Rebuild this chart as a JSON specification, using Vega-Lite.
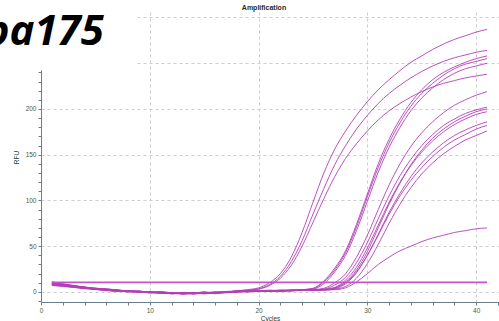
{
  "$schema": "https://vega.github.io/schema/vega-lite/v6.json",
  "width": 458,
  "height": 290,
  "autosize": {"type": "none"},
  "padding": {"left": 41, "top": 12, "right": 0, "bottom": 19},
  "background": "white",
  "title": {"text": "Amplification", "frame": "group", "font": "Liberation Sans", "fontSize": 7, "fontWeight": "bold", "color": "#1f2d1f", "offset": 0, "dy": 10.5, "dx": -6},
  "config": {
    "view": {"stroke": null},
    "axis": {
      "domainColor": "#6a7f8c",
      "tickColor": "#6a7f8c",
      "tickSize": 3,
      "labelFont": "Liberation Sans",
      "labelFontSize": 6.5,
      "labelColor": "#4f5a3c",
      "labelOverlap": false,
      "format": "d",
      "titleFont": "Liberation Sans",
      "titleFontSize": 6.5,
      "titleFontWeight": "normal",
      "titleColor": "#2f3a2a",
      "gridColor": "#cdcdcd",
      "gridDash": [3, 3],
      "gridWidth": 1
    }
  },
  "datasets": {
    "wells": [
      {"well":"A","cycle":1,"rfu":10},{"well":"A","cycle":2,"rfu":8},{"well":"A","cycle":3,"rfu":6.5},{"well":"A","cycle":4,"rfu":5},{"well":"A","cycle":5,"rfu":3},{"well":"A","cycle":6,"rfu":2.5},{"well":"A","cycle":7,"rfu":2},{"well":"A","cycle":8,"rfu":0.5},{"well":"A","cycle":9,"rfu":1},{"well":"A","cycle":10,"rfu":-0.5},{"well":"A","cycle":11,"rfu":0},{"well":"A","cycle":12,"rfu":-1.5},{"well":"A","cycle":13,"rfu":-1},{"well":"A","cycle":14,"rfu":-2},{"well":"A","cycle":15,"rfu":0},{"well":"A","cycle":16,"rfu":-1.5},{"well":"A","cycle":17,"rfu":0.5},{"well":"A","cycle":18,"rfu":1},{"well":"A","cycle":19,"rfu":2.5},{"well":"A","cycle":20,"rfu":4.5},{"well":"A","cycle":21,"rfu":10},{"well":"A","cycle":22,"rfu":20},{"well":"A","cycle":23,"rfu":38},{"well":"A","cycle":24,"rfu":65},{"well":"A","cycle":25,"rfu":98},{"well":"A","cycle":26,"rfu":130},{"well":"A","cycle":27,"rfu":156},{"well":"A","cycle":28,"rfu":176},{"well":"A","cycle":29,"rfu":193},{"well":"A","cycle":30,"rfu":208},{"well":"A","cycle":31,"rfu":221},{"well":"A","cycle":32,"rfu":232},{"well":"A","cycle":33,"rfu":242},{"well":"A","cycle":34,"rfu":251},{"well":"A","cycle":35,"rfu":258},{"well":"A","cycle":36,"rfu":265},{"well":"A","cycle":37,"rfu":271},{"well":"A","cycle":38,"rfu":276},{"well":"A","cycle":39,"rfu":280},{"well":"A","cycle":40,"rfu":284},{"well":"A","cycle":41,"rfu":287},
      {"well":"B","cycle":1,"rfu":8},{"well":"B","cycle":2,"rfu":7},{"well":"B","cycle":3,"rfu":5.5},{"well":"B","cycle":4,"rfu":4.5},{"well":"B","cycle":5,"rfu":4},{"well":"B","cycle":6,"rfu":2},{"well":"B","cycle":7,"rfu":1},{"well":"B","cycle":8,"rfu":1.5},{"well":"B","cycle":9,"rfu":0},{"well":"B","cycle":10,"rfu":0.5},{"well":"B","cycle":11,"rfu":-1},{"well":"B","cycle":12,"rfu":-0.5},{"well":"B","cycle":13,"rfu":-2},{"well":"B","cycle":14,"rfu":-1},{"well":"B","cycle":15,"rfu":-1.5},{"well":"B","cycle":16,"rfu":0},{"well":"B","cycle":17,"rfu":-0.5},{"well":"B","cycle":18,"rfu":1.5},{"well":"B","cycle":19,"rfu":2},{"well":"B","cycle":20,"rfu":3.5},{"well":"B","cycle":21,"rfu":8},{"well":"B","cycle":22,"rfu":17},{"well":"B","cycle":23,"rfu":33},{"well":"B","cycle":24,"rfu":56},{"well":"B","cycle":25,"rfu":85},{"well":"B","cycle":26,"rfu":113},{"well":"B","cycle":27,"rfu":139},{"well":"B","cycle":28,"rfu":160},{"well":"B","cycle":29,"rfu":178},{"well":"B","cycle":30,"rfu":193},{"well":"B","cycle":31,"rfu":206},{"well":"B","cycle":32,"rfu":217},{"well":"B","cycle":33,"rfu":226},{"well":"B","cycle":34,"rfu":234},{"well":"B","cycle":35,"rfu":241},{"well":"B","cycle":36,"rfu":247},{"well":"B","cycle":37,"rfu":252},{"well":"B","cycle":38,"rfu":256},{"well":"B","cycle":39,"rfu":259},{"well":"B","cycle":40,"rfu":262},{"well":"B","cycle":41,"rfu":264},
      {"well":"C","cycle":1,"rfu":11},{"well":"C","cycle":2,"rfu":9},{"well":"C","cycle":3,"rfu":7},{"well":"C","cycle":4,"rfu":5.5},{"well":"C","cycle":5,"rfu":4},{"well":"C","cycle":6,"rfu":3.5},{"well":"C","cycle":7,"rfu":2},{"well":"C","cycle":8,"rfu":1},{"well":"C","cycle":9,"rfu":0.5},{"well":"C","cycle":10,"rfu":0},{"well":"C","cycle":11,"rfu":-1},{"well":"C","cycle":12,"rfu":-1.5},{"well":"C","cycle":13,"rfu":-0.5},{"well":"C","cycle":14,"rfu":-1},{"well":"C","cycle":15,"rfu":-2},{"well":"C","cycle":16,"rfu":-0.5},{"well":"C","cycle":17,"rfu":0},{"well":"C","cycle":18,"rfu":1},{"well":"C","cycle":19,"rfu":1.5},{"well":"C","cycle":20,"rfu":3},{"well":"C","cycle":21,"rfu":7},{"well":"C","cycle":22,"rfu":15},{"well":"C","cycle":23,"rfu":29},{"well":"C","cycle":24,"rfu":50},{"well":"C","cycle":25,"rfu":76},{"well":"C","cycle":26,"rfu":102},{"well":"C","cycle":27,"rfu":126},{"well":"C","cycle":28,"rfu":146},{"well":"C","cycle":29,"rfu":162},{"well":"C","cycle":30,"rfu":176},{"well":"C","cycle":31,"rfu":188},{"well":"C","cycle":32,"rfu":198},{"well":"C","cycle":33,"rfu":206},{"well":"C","cycle":34,"rfu":213},{"well":"C","cycle":35,"rfu":219},{"well":"C","cycle":36,"rfu":224},{"well":"C","cycle":37,"rfu":228},{"well":"C","cycle":38,"rfu":231},{"well":"C","cycle":39,"rfu":234},{"well":"C","cycle":40,"rfu":236},{"well":"C","cycle":41,"rfu":238},
      {"well":"D","cycle":1,"rfu":9},{"well":"D","cycle":2,"rfu":7},{"well":"D","cycle":3,"rfu":6},{"well":"D","cycle":4,"rfu":4},{"well":"D","cycle":5,"rfu":3.5},{"well":"D","cycle":6,"rfu":2},{"well":"D","cycle":7,"rfu":1.5},{"well":"D","cycle":8,"rfu":0},{"well":"D","cycle":9,"rfu":0.5},{"well":"D","cycle":10,"rfu":-1},{"well":"D","cycle":11,"rfu":-0.5},{"well":"D","cycle":12,"rfu":-2},{"well":"D","cycle":13,"rfu":-1.5},{"well":"D","cycle":14,"rfu":-0.5},{"well":"D","cycle":15,"rfu":-1},{"well":"D","cycle":16,"rfu":-1.5},{"well":"D","cycle":17,"rfu":0},{"well":"D","cycle":18,"rfu":0},{"well":"D","cycle":19,"rfu":1},{"well":"D","cycle":20,"rfu":0.5},{"well":"D","cycle":21,"rfu":1.5},{"well":"D","cycle":22,"rfu":1},{"well":"D","cycle":23,"rfu":2},{"well":"D","cycle":24,"rfu":2.5},{"well":"D","cycle":25,"rfu":4},{"well":"D","cycle":26,"rfu":12},{"well":"D","cycle":27,"rfu":26},{"well":"D","cycle":28,"rfu":45},{"well":"D","cycle":29,"rfu":74},{"well":"D","cycle":30,"rfu":107},{"well":"D","cycle":31,"rfu":140},{"well":"D","cycle":32,"rfu":167},{"well":"D","cycle":33,"rfu":189},{"well":"D","cycle":34,"rfu":207},{"well":"D","cycle":35,"rfu":221},{"well":"D","cycle":36,"rfu":232},{"well":"D","cycle":37,"rfu":240},{"well":"D","cycle":38,"rfu":246},{"well":"D","cycle":39,"rfu":251},{"well":"D","cycle":40,"rfu":255},{"well":"D","cycle":41,"rfu":258},
      {"well":"E","cycle":1,"rfu":7.5},{"well":"E","cycle":2,"rfu":6.5},{"well":"E","cycle":3,"rfu":5},{"well":"E","cycle":4,"rfu":4},{"well":"E","cycle":5,"rfu":2.5},{"well":"E","cycle":6,"rfu":2},{"well":"E","cycle":7,"rfu":0.5},{"well":"E","cycle":8,"rfu":1},{"well":"E","cycle":9,"rfu":-0.5},{"well":"E","cycle":10,"rfu":0},{"well":"E","cycle":11,"rfu":-1.5},{"well":"E","cycle":12,"rfu":-1},{"well":"E","cycle":13,"rfu":-2.5},{"well":"E","cycle":14,"rfu":-1.5},{"well":"E","cycle":15,"rfu":0},{"well":"E","cycle":16,"rfu":-1},{"well":"E","cycle":17,"rfu":-0.5},{"well":"E","cycle":18,"rfu":0.5},{"well":"E","cycle":19,"rfu":0},{"well":"E","cycle":20,"rfu":1},{"well":"E","cycle":21,"rfu":0.5},{"well":"E","cycle":22,"rfu":1.5},{"well":"E","cycle":23,"rfu":1},{"well":"E","cycle":24,"rfu":2},{"well":"E","cycle":25,"rfu":3},{"well":"E","cycle":26,"rfu":9},{"well":"E","cycle":27,"rfu":22},{"well":"E","cycle":28,"rfu":40},{"well":"E","cycle":29,"rfu":67},{"well":"E","cycle":30,"rfu":99},{"well":"E","cycle":31,"rfu":131},{"well":"E","cycle":32,"rfu":158},{"well":"E","cycle":33,"rfu":180},{"well":"E","cycle":34,"rfu":198},{"well":"E","cycle":35,"rfu":212},{"well":"E","cycle":36,"rfu":223},{"well":"E","cycle":37,"rfu":232},{"well":"E","cycle":38,"rfu":239},{"well":"E","cycle":39,"rfu":244},{"well":"E","cycle":40,"rfu":247},{"well":"E","cycle":41,"rfu":250},
      {"well":"F","cycle":1,"rfu":10.5},{"well":"F","cycle":2,"rfu":8.5},{"well":"F","cycle":3,"rfu":7},{"well":"F","cycle":4,"rfu":5},{"well":"F","cycle":5,"rfu":4},{"well":"F","cycle":6,"rfu":3},{"well":"F","cycle":7,"rfu":2.5},{"well":"F","cycle":8,"rfu":1},{"well":"F","cycle":9,"rfu":1},{"well":"F","cycle":10,"rfu":-0.5},{"well":"F","cycle":11,"rfu":0.5},{"well":"F","cycle":12,"rfu":-1},{"well":"F","cycle":13,"rfu":-1},{"well":"F","cycle":14,"rfu":-2.5},{"well":"F","cycle":15,"rfu":-1},{"well":"F","cycle":16,"rfu":-0.5},{"well":"F","cycle":17,"rfu":-1},{"well":"F","cycle":18,"rfu":0},{"well":"F","cycle":19,"rfu":1},{"well":"F","cycle":20,"rfu":1.5},{"well":"F","cycle":21,"rfu":1},{"well":"F","cycle":22,"rfu":2},{"well":"F","cycle":23,"rfu":2},{"well":"F","cycle":24,"rfu":2.5},{"well":"F","cycle":25,"rfu":3.5},{"well":"F","cycle":26,"rfu":11},{"well":"F","cycle":27,"rfu":24},{"well":"F","cycle":28,"rfu":43},{"well":"F","cycle":29,"rfu":71},{"well":"F","cycle":30,"rfu":104},{"well":"F","cycle":31,"rfu":136},{"well":"F","cycle":32,"rfu":163},{"well":"F","cycle":33,"rfu":185},{"well":"F","cycle":34,"rfu":203},{"well":"F","cycle":35,"rfu":217},{"well":"F","cycle":36,"rfu":228},{"well":"F","cycle":37,"rfu":237},{"well":"F","cycle":38,"rfu":244},{"well":"F","cycle":39,"rfu":249},{"well":"F","cycle":40,"rfu":252},{"well":"F","cycle":41,"rfu":255},
      {"well":"G","cycle":1,"rfu":8.5},{"well":"G","cycle":2,"rfu":7.5},{"well":"G","cycle":3,"rfu":6},{"well":"G","cycle":4,"rfu":5},{"well":"G","cycle":5,"rfu":3},{"well":"G","cycle":6,"rfu":2.5},{"well":"G","cycle":7,"rfu":1.5},{"well":"G","cycle":8,"rfu":1.5},{"well":"G","cycle":9,"rfu":0},{"well":"G","cycle":10,"rfu":-0.5},{"well":"G","cycle":11,"rfu":-1},{"well":"G","cycle":12,"rfu":-1.5},{"well":"G","cycle":13,"rfu":-1},{"well":"G","cycle":14,"rfu":-0.5},{"well":"G","cycle":15,"rfu":-1.5},{"well":"G","cycle":16,"rfu":-1},{"well":"G","cycle":17,"rfu":0.5},{"well":"G","cycle":18,"rfu":0},{"well":"G","cycle":19,"rfu":0.5},{"well":"G","cycle":20,"rfu":1},{"well":"G","cycle":21,"rfu":1.5},{"well":"G","cycle":22,"rfu":1},{"well":"G","cycle":23,"rfu":1.5},{"well":"G","cycle":24,"rfu":2},{"well":"G","cycle":25,"rfu":2.5},{"well":"G","cycle":26,"rfu":4},{"well":"G","cycle":27,"rfu":10},{"well":"G","cycle":28,"rfu":20},{"well":"G","cycle":29,"rfu":38},{"well":"G","cycle":30,"rfu":62},{"well":"G","cycle":31,"rfu":90},{"well":"G","cycle":32,"rfu":117},{"well":"G","cycle":33,"rfu":140},{"well":"G","cycle":34,"rfu":159},{"well":"G","cycle":35,"rfu":174},{"well":"G","cycle":36,"rfu":186},{"well":"G","cycle":37,"rfu":196},{"well":"G","cycle":38,"rfu":204},{"well":"G","cycle":39,"rfu":210},{"well":"G","cycle":40,"rfu":215},{"well":"G","cycle":41,"rfu":219},
      {"well":"H","cycle":1,"rfu":9.5},{"well":"H","cycle":2,"rfu":8},{"well":"H","cycle":3,"rfu":6.5},{"well":"H","cycle":4,"rfu":4.5},{"well":"H","cycle":5,"rfu":4},{"well":"H","cycle":6,"rfu":2.5},{"well":"H","cycle":7,"rfu":1},{"well":"H","cycle":8,"rfu":0.5},{"well":"H","cycle":9,"rfu":1},{"well":"H","cycle":10,"rfu":-1},{"well":"H","cycle":11,"rfu":0},{"well":"H","cycle":12,"rfu":-1},{"well":"H","cycle":13,"rfu":-2},{"well":"H","cycle":14,"rfu":-1.5},{"well":"H","cycle":15,"rfu":-0.5},{"well":"H","cycle":16,"rfu":-1.5},{"well":"H","cycle":17,"rfu":-0.5},{"well":"H","cycle":18,"rfu":1},{"well":"H","cycle":19,"rfu":0.5},{"well":"H","cycle":20,"rfu":1.5},{"well":"H","cycle":21,"rfu":1},{"well":"H","cycle":22,"rfu":2},{"well":"H","cycle":23,"rfu":1.5},{"well":"H","cycle":24,"rfu":2.5},{"well":"H","cycle":25,"rfu":2},{"well":"H","cycle":26,"rfu":3},{"well":"H","cycle":27,"rfu":7.5},{"well":"H","cycle":28,"rfu":16},{"well":"H","cycle":29,"rfu":32},{"well":"H","cycle":30,"rfu":54},{"well":"H","cycle":31,"rfu":80},{"well":"H","cycle":32,"rfu":105},{"well":"H","cycle":33,"rfu":127},{"well":"H","cycle":34,"rfu":145},{"well":"H","cycle":35,"rfu":160},{"well":"H","cycle":36,"rfu":172},{"well":"H","cycle":37,"rfu":182},{"well":"H","cycle":38,"rfu":189},{"well":"H","cycle":39,"rfu":195},{"well":"H","cycle":40,"rfu":199},{"well":"H","cycle":41,"rfu":202},
      {"well":"I","cycle":1,"rfu":8},{"well":"I","cycle":2,"rfu":6.5},{"well":"I","cycle":3,"rfu":5.5},{"well":"I","cycle":4,"rfu":4},{"well":"I","cycle":5,"rfu":3},{"well":"I","cycle":6,"rfu":1.5},{"well":"I","cycle":7,"rfu":1.5},{"well":"I","cycle":8,"rfu":0.5},{"well":"I","cycle":9,"rfu":-0.5},{"well":"I","cycle":10,"rfu":0},{"well":"I","cycle":11,"rfu":-1},{"well":"I","cycle":12,"rfu":-2},{"well":"I","cycle":13,"rfu":-1.5},{"well":"I","cycle":14,"rfu":-1},{"well":"I","cycle":15,"rfu":-0.5},{"well":"I","cycle":16,"rfu":-2},{"well":"I","cycle":17,"rfu":-0.5},{"well":"I","cycle":18,"rfu":0},{"well":"I","cycle":19,"rfu":1},{"well":"I","cycle":20,"rfu":0.5},{"well":"I","cycle":21,"rfu":1},{"well":"I","cycle":22,"rfu":1},{"well":"I","cycle":23,"rfu":2},{"well":"I","cycle":24,"rfu":1.5},{"well":"I","cycle":25,"rfu":2.5},{"well":"I","cycle":26,"rfu":2.5},{"well":"I","cycle":27,"rfu":4.5},{"well":"I","cycle":28,"rfu":11},{"well":"I","cycle":29,"rfu":24},{"well":"I","cycle":30,"rfu":44},{"well":"I","cycle":31,"rfu":70},{"well":"I","cycle":32,"rfu":96},{"well":"I","cycle":33,"rfu":119},{"well":"I","cycle":34,"rfu":139},{"well":"I","cycle":35,"rfu":155},{"well":"I","cycle":36,"rfu":168},{"well":"I","cycle":37,"rfu":178},{"well":"I","cycle":38,"rfu":186},{"well":"I","cycle":39,"rfu":192},{"well":"I","cycle":40,"rfu":197},{"well":"I","cycle":41,"rfu":200},
      {"well":"J","cycle":1,"rfu":10},{"well":"J","cycle":2,"rfu":8.5},{"well":"J","cycle":3,"rfu":6.5},{"well":"J","cycle":4,"rfu":5.5},{"well":"J","cycle":5,"rfu":3.5},{"well":"J","cycle":6,"rfu":3},{"well":"J","cycle":7,"rfu":2},{"well":"J","cycle":8,"rfu":1},{"well":"J","cycle":9,"rfu":0},{"well":"J","cycle":10,"rfu":0.5},{"well":"J","cycle":11,"rfu":-0.5},{"well":"J","cycle":12,"rfu":-1},{"well":"J","cycle":13,"rfu":-1},{"well":"J","cycle":14,"rfu":-2},{"well":"J","cycle":15,"rfu":-1},{"well":"J","cycle":16,"rfu":-1},{"well":"J","cycle":17,"rfu":0},{"well":"J","cycle":18,"rfu":0.5},{"well":"J","cycle":19,"rfu":0},{"well":"J","cycle":20,"rfu":1},{"well":"J","cycle":21,"rfu":2},{"well":"J","cycle":22,"rfu":1.5},{"well":"J","cycle":23,"rfu":1.5},{"well":"J","cycle":24,"rfu":2},{"well":"J","cycle":25,"rfu":2},{"well":"J","cycle":26,"rfu":3},{"well":"J","cycle":27,"rfu":5},{"well":"J","cycle":28,"rfu":13},{"well":"J","cycle":29,"rfu":27},{"well":"J","cycle":30,"rfu":48},{"well":"J","cycle":31,"rfu":73},{"well":"J","cycle":32,"rfu":98},{"well":"J","cycle":33,"rfu":120},{"well":"J","cycle":34,"rfu":138},{"well":"J","cycle":35,"rfu":153},{"well":"J","cycle":36,"rfu":165},{"well":"J","cycle":37,"rfu":175},{"well":"J","cycle":38,"rfu":183},{"well":"J","cycle":39,"rfu":189},{"well":"J","cycle":40,"rfu":194},{"well":"J","cycle":41,"rfu":197},
      {"well":"K","cycle":1,"rfu":9},{"well":"K","cycle":2,"rfu":7},{"well":"K","cycle":3,"rfu":6},{"well":"K","cycle":4,"rfu":4.5},{"well":"K","cycle":5,"rfu":3},{"well":"K","cycle":6,"rfu":2},{"well":"K","cycle":7,"rfu":1},{"well":"K","cycle":8,"rfu":1},{"well":"K","cycle":9,"rfu":0.5},{"well":"K","cycle":10,"rfu":-1},{"well":"K","cycle":11,"rfu":-0.5},{"well":"K","cycle":12,"rfu":-2},{"well":"K","cycle":13,"rfu":-1},{"well":"K","cycle":14,"rfu":-1.5},{"well":"K","cycle":15,"rfu":-1},{"well":"K","cycle":16,"rfu":0},{"well":"K","cycle":17,"rfu":-0.5},{"well":"K","cycle":18,"rfu":0.5},{"well":"K","cycle":19,"rfu":1},{"well":"K","cycle":20,"rfu":1},{"well":"K","cycle":21,"rfu":1.5},{"well":"K","cycle":22,"rfu":0.5},{"well":"K","cycle":23,"rfu":2},{"well":"K","cycle":24,"rfu":2},{"well":"K","cycle":25,"rfu":1.5},{"well":"K","cycle":26,"rfu":2.5},{"well":"K","cycle":27,"rfu":3.5},{"well":"K","cycle":28,"rfu":9},{"well":"K","cycle":29,"rfu":21},{"well":"K","cycle":30,"rfu":40},{"well":"K","cycle":31,"rfu":63},{"well":"K","cycle":32,"rfu":87},{"well":"K","cycle":33,"rfu":108},{"well":"K","cycle":34,"rfu":126},{"well":"K","cycle":35,"rfu":141},{"well":"K","cycle":36,"rfu":153},{"well":"K","cycle":37,"rfu":163},{"well":"K","cycle":38,"rfu":171},{"well":"K","cycle":39,"rfu":177},{"well":"K","cycle":40,"rfu":182},{"well":"K","cycle":41,"rfu":186},
      {"well":"L","cycle":1,"rfu":7},{"well":"L","cycle":2,"rfu":6},{"well":"L","cycle":3,"rfu":5},{"well":"L","cycle":4,"rfu":3.5},{"well":"L","cycle":5,"rfu":3},{"well":"L","cycle":6,"rfu":1.5},{"well":"L","cycle":7,"rfu":1},{"well":"L","cycle":8,"rfu":0},{"well":"L","cycle":9,"rfu":0.5},{"well":"L","cycle":10,"rfu":-0.5},{"well":"L","cycle":11,"rfu":-1.5},{"well":"L","cycle":12,"rfu":-1},{"well":"L","cycle":13,"rfu":-2},{"well":"L","cycle":14,"rfu":-1},{"well":"L","cycle":15,"rfu":-1.5},{"well":"L","cycle":16,"rfu":-1},{"well":"L","cycle":17,"rfu":0},{"well":"L","cycle":18,"rfu":0},{"well":"L","cycle":19,"rfu":1.5},{"well":"L","cycle":20,"rfu":0.5},{"well":"L","cycle":21,"rfu":1},{"well":"L","cycle":22,"rfu":1.5},{"well":"L","cycle":23,"rfu":1},{"well":"L","cycle":24,"rfu":2.5},{"well":"L","cycle":25,"rfu":2},{"well":"L","cycle":26,"rfu":2},{"well":"L","cycle":27,"rfu":4},{"well":"L","cycle":28,"rfu":10},{"well":"L","cycle":29,"rfu":22},{"well":"L","cycle":30,"rfu":40},{"well":"L","cycle":31,"rfu":62},{"well":"L","cycle":32,"rfu":85},{"well":"L","cycle":33,"rfu":105},{"well":"L","cycle":34,"rfu":122},{"well":"L","cycle":35,"rfu":136},{"well":"L","cycle":36,"rfu":148},{"well":"L","cycle":37,"rfu":158},{"well":"L","cycle":38,"rfu":166},{"well":"L","cycle":39,"rfu":172},{"well":"L","cycle":40,"rfu":178},{"well":"L","cycle":41,"rfu":182},
      {"well":"M","cycle":1,"rfu":9.5},{"well":"M","cycle":2,"rfu":8},{"well":"M","cycle":3,"rfu":6},{"well":"M","cycle":4,"rfu":5},{"well":"M","cycle":5,"rfu":3.5},{"well":"M","cycle":6,"rfu":3},{"well":"M","cycle":7,"rfu":1.5},{"well":"M","cycle":8,"rfu":1},{"well":"M","cycle":9,"rfu":0},{"well":"M","cycle":10,"rfu":0},{"well":"M","cycle":11,"rfu":-1},{"well":"M","cycle":12,"rfu":-1.5},{"well":"M","cycle":13,"rfu":-1.5},{"well":"M","cycle":14,"rfu":-1},{"well":"M","cycle":15,"rfu":-2},{"well":"M","cycle":16,"rfu":-1},{"well":"M","cycle":17,"rfu":-0.5},{"well":"M","cycle":18,"rfu":0.5},{"well":"M","cycle":19,"rfu":0.5},{"well":"M","cycle":20,"rfu":1},{"well":"M","cycle":21,"rfu":1},{"well":"M","cycle":22,"rfu":1.5},{"well":"M","cycle":23,"rfu":2},{"well":"M","cycle":24,"rfu":1.5},{"well":"M","cycle":25,"rfu":2.5},{"well":"M","cycle":26,"rfu":2},{"well":"M","cycle":27,"rfu":3},{"well":"M","cycle":28,"rfu":6},{"well":"M","cycle":29,"rfu":15},{"well":"M","cycle":30,"rfu":31},{"well":"M","cycle":31,"rfu":52},{"well":"M","cycle":32,"rfu":75},{"well":"M","cycle":33,"rfu":96},{"well":"M","cycle":34,"rfu":114},{"well":"M","cycle":35,"rfu":129},{"well":"M","cycle":36,"rfu":141},{"well":"M","cycle":37,"rfu":151},{"well":"M","cycle":38,"rfu":159},{"well":"M","cycle":39,"rfu":166},{"well":"M","cycle":40,"rfu":171},{"well":"M","cycle":41,"rfu":176},
      {"well":"N","cycle":1,"rfu":8.5},{"well":"N","cycle":2,"rfu":7},{"well":"N","cycle":3,"rfu":5.5},{"well":"N","cycle":4,"rfu":4},{"well":"N","cycle":5,"rfu":3.5},{"well":"N","cycle":6,"rfu":2},{"well":"N","cycle":7,"rfu":2},{"well":"N","cycle":8,"rfu":0.5},{"well":"N","cycle":9,"rfu":0.5},{"well":"N","cycle":10,"rfu":-0.5},{"well":"N","cycle":11,"rfu":-1},{"well":"N","cycle":12,"rfu":-1},{"well":"N","cycle":13,"rfu":-2},{"well":"N","cycle":14,"rfu":-1.5},{"well":"N","cycle":15,"rfu":-1},{"well":"N","cycle":16,"rfu":-0.5},{"well":"N","cycle":17,"rfu":0},{"well":"N","cycle":18,"rfu":0},{"well":"N","cycle":19,"rfu":1},{"well":"N","cycle":20,"rfu":1.5},{"well":"N","cycle":21,"rfu":1},{"well":"N","cycle":22,"rfu":1},{"well":"N","cycle":23,"rfu":1.5},{"well":"N","cycle":24,"rfu":2},{"well":"N","cycle":25,"rfu":2},{"well":"N","cycle":26,"rfu":2.5},{"well":"N","cycle":27,"rfu":2.5},{"well":"N","cycle":28,"rfu":4.5},{"well":"N","cycle":29,"rfu":11},{"well":"N","cycle":30,"rfu":20},{"well":"N","cycle":31,"rfu":30},{"well":"N","cycle":32,"rfu":38},{"well":"N","cycle":33,"rfu":45},{"well":"N","cycle":34,"rfu":50},{"well":"N","cycle":35,"rfu":55},{"well":"N","cycle":36,"rfu":59},{"well":"N","cycle":37,"rfu":62},{"well":"N","cycle":38,"rfu":65},{"well":"N","cycle":39,"rfu":67},{"well":"N","cycle":40,"rfu":69},{"well":"N","cycle":41,"rfu":70}
    ],
    "threshold": [
      {"cycle": 1, "rfu": 10.5},
      {"cycle": 41, "rfu": 10.5}
    ],
    "tag": [
      {"text": "pa175"}
    ]
  },
  "layer": [
    {
      "data": {"name": "wells"},
      "mark": {"type": "line", "color": "#b23fb8", "strokeWidth": 1, "opacity": 0.9, "interpolate": "monotone"},
      "encoding": {
        "x": {
          "field": "cycle", "type": "quantitative",
          "scale": {"domain": [0, 42.1], "nice": false, "zero": false},
          "axis": {
            "title": "Cycles",
            "titlePadding": 2,
            "tickCount": 200,
            "values": [0, 2, 4, 6, 8, 10, 12, 14, 16, 18, 20, 22, 24, 26, 28, 30, 32, 34, 36, 38, 40, 42],
            "labelExpr": "datum.value % 10 === 0 ? datum.label : ''",
            "labelPadding": 2,
            "labelFlush": false,
            "grid": true,
            "gridOpacity": {"condition": {"test": "datum.value % 10 === 0 && datum.value > 0", "value": 1}, "value": 0}
          }
        },
        "y": {
          "field": "rfu", "type": "quantitative",
          "scale": {"domain": [-11, 306], "nice": false, "zero": false},
          "axis": {
            "title": "RFU",
            "titlePadding": 6,
            "tickCount": 200,
            "values": [-10, 0, 10, 20, 30, 40, 50, 60, 70, 80, 90, 100, 110, 120, 130, 140, 150, 160, 170, 180, 190, 200, 210, 220, 230, 240, 250, 260, 270, 280, 290, 300],
            "labelExpr": "datum.value % 50 === 0 && datum.value <= 200 ? datum.label : ''",
            "labelPadding": 2,
            "labelFlush": false,
            "grid": true,
            "gridOpacity": {"condition": {"test": "datum.value % 50 === 0", "value": 1}, "value": 0}
          }
        },
        "detail": {"field": "well", "type": "nominal"}
      }
    },
    {
      "data": {"name": "threshold"},
      "mark": {"type": "line", "color": "#c455c8", "strokeWidth": 1.8},
      "encoding": {
        "x": {"field": "cycle", "type": "quantitative"},
        "y": {"field": "rfu", "type": "quantitative"}
      }
    },
    {
      "data": {"name": "tag"},
      "mark": {"type": "rect", "color": "white", "opacity": 1},
      "encoding": {
        "x": {"datum": -3.8, "type": "quantitative"},
        "x2": {"datum": 8.85},
        "y": {"datum": 242, "type": "quantitative"},
        "y2": {"datum": 319}
      }
    },
    {
      "data": {"name": "tag"},
      "mark": {"type": "text", "font": "Open Sans", "fontSize": 42, "fontWeight": "bold", "fontStyle": "italic", "align": "left", "baseline": "alphabetic", "color": "black"},
      "encoding": {
        "text": {"field": "text", "type": "nominal"},
        "x": {"datum": -5.2, "type": "quantitative"},
        "y": {"datum": 270, "type": "quantitative"}
      }
    }
  ]
}
